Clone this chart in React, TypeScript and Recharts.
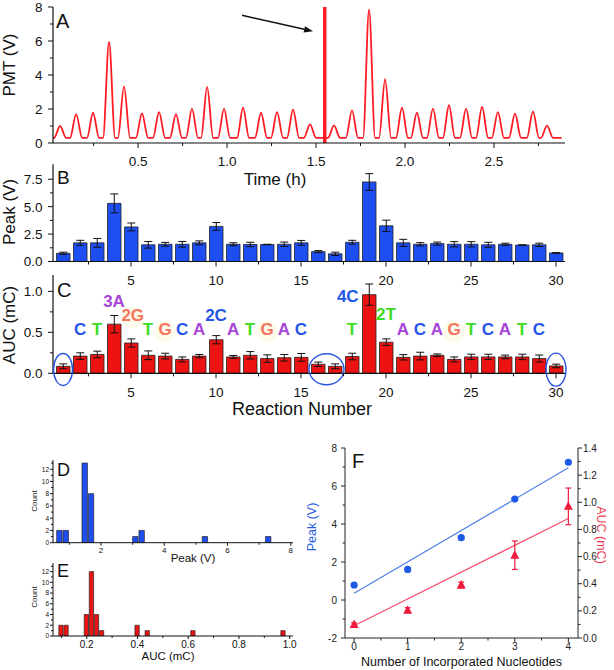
import React from 'react'
import {
  BarChart,
  Bar,
  ComposedChart,
  Line,
  LineChart,
  Scatter,
  XAxis,
  YAxis,
  ErrorBar,
  ReferenceLine,
  ReferenceDot,
  Label,
} from 'recharts'

const FONT = '"Liberation Sans", Arial, Helvetica, sans-serif'
const INK = '#111'
const TRACE_RED = '#ff1c24'
const BAR_RED = '#ee1313'
const BAR_BLUE = '#1d4ef2'

// ---- A: PMT trace, one peak per reaction (apex time in h, height in V)
const peakTimes = [0.062, 0.152, 0.247, 0.337, 0.421, 0.522, 0.618, 0.713, 0.803, 0.888, 0.983, 1.09, 1.191, 1.281, 1.371, 1.466, 1.601, 1.702, 1.798, 1.888, 1.983, 2.067, 2.157, 2.247, 2.343, 2.433, 2.522, 2.618, 2.719, 2.798]
const peakHeights = [1.0, 1.7, 1.78, 5.95, 3.33, 1.74, 1.82, 1.7, 2.02, 3.3, 2.02, 2.08, 1.78, 1.82, 1.97, 1.1, 1.04, 1.92, 7.85, 3.75, 2.08, 1.78, 2.02, 2.22, 2.02, 2.12, 1.82, 1.73, 1.86, 1.02]
const pmtBaseline = 0.3
const peakHalfWidth = 0.034
const traceStart = 0.022
const traceEnd = 2.88
const spikeTime = 1.549
const arrowFrom = [1.084, 7.51]
const arrowTo = [1.483, 6.57]
const timeTicks = [0.25, 0.5, 0.75, 1, 1.25, 1.5, 1.75, 2, 2.25, 2.5, 2.75]
const pmtTicks = [0, 1, 2, 3, 4, 5, 6, 7, 8]

// ---- B / C: per-reaction peak and AUC
const reactions = [1, 2, 3, 4, 5, 6, 7, 8, 9, 10, 11, 12, 13, 14, 15, 16, 17, 18, 19, 20, 21, 22, 23, 24, 25, 26, 27, 28, 29, 30]
const peakV = [0.75, 1.7, 1.7, 5.3, 3.15, 1.52, 1.57, 1.57, 1.7, 3.2, 1.57, 1.55, 1.55, 1.57, 1.7, 0.9, 0.7, 1.75, 7.25, 3.25, 1.7, 1.57, 1.63, 1.57, 1.57, 1.52, 1.57, 1.5, 1.52, 0.78]
const peakErr = [0.1, 0.23, 0.4, 0.86, 0.36, 0.3, 0.17, 0.26, 0.18, 0.35, 0.14, 0.2, 0.02, 0.2, 0.22, 0.09, 0.15, 0.18, 0.76, 0.52, 0.32, 0.15, 0.14, 0.24, 0.24, 0.23, 0.1, 0.02, 0.15, 0.03]
const aucV = [0.085, 0.21, 0.23, 0.6, 0.37, 0.22, 0.21, 0.17, 0.21, 0.41, 0.2, 0.22, 0.18, 0.19, 0.195, 0.11, 0.085, 0.205, 0.96, 0.38, 0.195, 0.21, 0.22, 0.17, 0.2, 0.2, 0.2, 0.2, 0.18, 0.09]
const aucErr = [0.03, 0.04, 0.04, 0.106, 0.05, 0.053, 0.035, 0.03, 0.02, 0.05, 0.018, 0.045, 0.045, 0.04, 0.047, 0.027, 0.03, 0.04, 0.13, 0.04, 0.033, 0.047, 0.016, 0.03, 0.033, 0.033, 0.022, 0.033, 0.043, 0.022]
const reactionTicks = [2.5, 5, 7.5, 10, 12.5, 15, 17.5, 20, 22.5, 25, 27.5, 30]
const peakTicks = [0, 1.25, 2.5, 3.75, 5, 6.25, 7.5]
const aucTicks = [0, 0.25, 0.5, 0.75, 1]

// sequence calls written over panel C
const seqText = ['C', 'T', '3A', '2G', 'T', 'G', 'C', 'A', '2C', 'A', 'T', 'G', 'A', 'C', 'T', '4C', '2T', 'A', 'C', 'A', 'G', 'T', 'C', 'A', 'T', 'C']
const seqX = [2, 3, 4, 5.1, 6, 7, 8, 9, 10, 11, 12, 13, 14, 15, 18, 17.75, 20, 21, 22, 23, 24, 25, 26, 27, 28, 29]
const seqY = [0.54, 0.54, 0.88, 0.71, 0.54, 0.54, 0.54, 0.54, 0.71, 0.54, 0.54, 0.54, 0.54, 0.54, 0.54, 0.945, 0.72, 0.54, 0.54, 0.54, 0.54, 0.54, 0.54, 0.54, 0.54, 0.54]
const circledX = [1, 16.5, 30]
const circledY = [0.047, 0.05, 0.045]

// ---- D / E: histograms
const peakBins = [0.7, 0.9, 1.5, 1.7, 3.1, 3.3, 5.3, 7.3]
const peakCounts = [2, 2, 13, 8, 1, 2, 1, 1]
const aucBins = [0.1, 0.12, 0.2, 0.22, 0.24, 0.26, 0.4, 0.44, 0.62, 0.975]
const aucCounts = [2, 2, 4, 12, 4, 1, 2, 1, 1, 1]
const countTicks = [0, 1, 2, 3, 4, 5, 6, 7, 8, 9, 10, 11, 12, 13]
const histPeakTicks = [1, 2, 3, 4, 5, 6, 7, 8]
const histAucTicks = [0.1, 0.2, 0.3, 0.4, 0.5, 0.6, 0.7, 0.8, 0.9, 1.0]

// ---- F: signal vs number of incorporated nucleotides
const nucleotides = [0, 1, 2, 3, 4]
const fPeak = [0.79, 1.61, 3.28, 5.31, 7.25]
const fAuc = [0.1, 0.205, 0.39, 0.61, 0.97]
const fAucErr = [0.012, 0.018, 0.022, 0.105, 0.135]
const fitX = [0, 4]
const peakFit = [0.35, 6.96]
const aucFit = [0.09, 0.88]
const nucTicks = [0, 0.5, 1, 1.5, 2, 2.5, 3, 3.5, 4]
const fLeftTicks = [-2, -1, 0, 1, 2, 3, 4, 5, 6, 7, 8]
const fRightTicks = [0, 0.1, 0.2, 0.3, 0.4, 0.5, 0.6, 0.7, 0.8, 0.9, 1.0, 1.1, 1.2, 1.3, 1.4]

const baseColors: Record<string, string> = { A: '#a846d8', C: '#2456e8', G: '#f4745e', T: '#3ddc1f' }

const traceData: { t: number; v: number }[] = [{ t: traceStart, v: pmtBaseline }]
peakTimes.forEach((t, i) => {
  traceData.push({ t: t - peakHalfWidth, v: pmtBaseline }, { t, v: peakHeights[i] }, { t: t + peakHalfWidth, v: pmtBaseline })
})
traceData.push({ t: traceEnd, v: pmtBaseline })

const peakRows = reactions.map((n, i) => ({ n, v: peakV[i], e: peakErr[i] }))
const aucRows = reactions.map((n, i) => ({ n, v: aucV[i], e: aucErr[i] }))
const peakHist = peakBins.map((x, i) => ({ x, c: peakCounts[i] }))
const aucHist = aucBins.map((x, i) => ({ x, c: aucCounts[i] }))
const fPeakPts = nucleotides.map((x, i) => ({ x, y: fPeak[i] }))
const fAucPts = nucleotides.map((x, i) => ({ x, y: fAuc[i], e: fAucErr[i] }))
const peakFitLine = fitX.map((x, i) => ({ x, y: peakFit[i] }))
const aucFitLine = fitX.map((x, i) => ({ x, y: aucFit[i] }))

type TickCfg = { side: 'bottom' | 'left' | 'right'; step: number; digits: number; size: number; gap: number; len?: number; minor?: number; color?: string }

// major ticks carry a label, the rest are short minor ticks
function axisTick(c: TickCfg) {
  const len = c.len ?? 5
  const minor = c.minor ?? 3
  const color = c.color ?? INK
  return (p: any) => {
    const v = Number(p.payload.value)
    const isMajor = Math.abs(v / c.step - Math.round(v / c.step)) < 1e-6
    const L = isMajor ? len : minor
    const label = isMajor ? v.toFixed(c.digits) : ''
    if (c.side === 'bottom') {
      return (
        <g>
          <line x1={p.x} y1={p.y} x2={p.x} y2={p.y + L} stroke={color} strokeWidth={1} />
          <text x={p.x} y={p.y + c.gap + c.size * 0.72} textAnchor="middle" fontSize={c.size} fill={color} fontFamily={FONT}>{label}</text>
        </g>
      )
    }
    const d = c.side === 'left' ? -1 : 1
    return (
      <g>
        <line x1={p.x} y1={p.y} x2={p.x + d * L} y2={p.y} stroke={color} strokeWidth={1} />
        <text x={p.x + d * c.gap} y={p.y + c.size * 0.36} textAnchor={d < 0 ? 'end' : 'start'} fontSize={c.size} fill={color} fontFamily={FONT}>{label}</text>
      </g>
    )
  }
}

type TextOpts = { fill?: string; angle?: number; anchor?: 'start' | 'middle' | 'end'; weight?: string }
const textAt = (s: string, x: number, y: number, size: number, o: TextOpts = {}) => () => (
  <text
    x={x}
    y={y}
    fontSize={size}
    fill={o.fill ?? INK}
    fontFamily={FONT}
    fontWeight={o.weight}
    textAnchor={o.anchor ?? 'middle'}
    transform={o.angle ? `rotate(${o.angle} ${x} ${y})` : undefined}
  >
    {s}
  </text>
)

const axisLine = { stroke: INK, strokeWidth: 1.2 }

const arrowShape = (p: any) => {
  const { x1, y1, x2, y2 } = p
  const a = Math.atan2(y2 - y1, x2 - x1)
  const L = 9
  const W = 3.2
  const bx = x2 - L * Math.cos(a)
  const by = y2 - L * Math.sin(a)
  const pts = [
    [x2, y2],
    [bx - W * Math.sin(a), by + W * Math.cos(a)],
    [bx + W * Math.sin(a), by - W * Math.cos(a)],
  ]
  return (
    <g>
      <line x1={x1} y1={y1} x2={bx} y2={by} stroke={INK} strokeWidth={1.6} />
      <polygon points={pts.map((q) => q.join(',')).join(' ')} fill={INK} />
    </g>
  )
}

function PanelA() {
  return (
    <LineChart width={600} height={195} data={traceData} margin={{ top: 7, right: 35, bottom: 0, left: 0 }}>
      <XAxis type="number" dataKey="t" domain={[0.022, 2.899]} allowDataOverflow ticks={timeTicks} interval={0} tickSize={0} tickMargin={0} tickLine={false} height={52} axisLine={axisLine} tick={axisTick({ side: 'bottom', step: 0.5, digits: 1, size: 13.5, gap: 13.5 })}>
        <Label content={textAt('Time (h)', 275, 185, 17)} />
      </XAxis>
      <YAxis type="number" domain={[0, 8]} allowDataOverflow ticks={pmtTicks} interval={0} tickSize={0} tickMargin={0} tickLine={false} width={53} axisLine={axisLine} tick={axisTick({ side: 'left', step: 2, digits: 0, size: 13.5, gap: 10.5 })}>
        <Label content={textAt('PMT (V)', 15, 65, 17, { angle: -90 })} />
        <Label content={textAt('A', 56, 28, 20, { anchor: 'start' })} />
      </YAxis>
      <ReferenceLine x={spikeTime} stroke={TRACE_RED} strokeWidth={3.5} />
      <ReferenceLine segment={[{ x: arrowFrom[0], y: arrowFrom[1] }, { x: arrowTo[0], y: arrowTo[1] }]} shape={arrowShape} />
      <Line type="monotone" dataKey="v" stroke={TRACE_RED} strokeWidth={1.8} dot={false} isAnimationActive={false} />
    </LineChart>
  )
}

function PanelB() {
  return (
    <BarChart width={600} height={150} data={peakRows} margin={{ top: 14.3, right: 35, bottom: 0, left: 0 }}>
      <XAxis type="number" dataKey="n" domain={[0.41, 30.53]} allowDataOverflow ticks={reactionTicks} interval={0} tickSize={0} tickMargin={0} tickLine={false} height={38.5} axisLine={axisLine} tick={axisTick({ side: 'bottom', step: 5, digits: 0, size: 13.5, gap: 13.5 })} />
      <YAxis type="number" domain={[0, 8.86]} allowDataOverflow ticks={peakTicks} interval={0} tickSize={0} tickMargin={0} tickLine={false} width={53} axisLine={axisLine} tick={axisTick({ side: 'left', step: 2.5, digits: 1, size: 13.5, gap: 10.5 })}>
        <Label content={textAt('Peak (V)', 15, 62, 17, { angle: -90 })} />
        <Label content={textAt('B', 57, 34, 19, { anchor: 'start' })} />
      </YAxis>
      <Bar dataKey="v" fill={BAR_BLUE} stroke="#222" strokeWidth={0.8} barSize={13.5} isAnimationActive={false}>
        <ErrorBar dataKey="e" width={4} stroke={INK} strokeWidth={1} direction="y" />
      </Bar>
    </BarChart>
  )
}

function PanelC() {
  const ellipseR = [
    [9.5, 16],
    [17.5, 15.5],
    [10, 16.5],
  ]
  return (
    <BarChart width={600} height={165} data={aucRows} margin={{ top: 15, right: 35, bottom: 0, left: 0 }}>
      <XAxis type="number" dataKey="n" domain={[0.41, 30.53]} allowDataOverflow ticks={reactionTicks} interval={0} tickSize={0} tickMargin={0} tickLine={false} height={51.7} axisLine={axisLine} tick={axisTick({ side: 'bottom', step: 5, digits: 0, size: 13.5, gap: 13.5 })}>
        <Label content={textAt('Reaction Number', 302, 155, 18)} />
      </XAxis>
      <YAxis type="number" domain={[0, 1.2]} allowDataOverflow ticks={aucTicks} interval={0} tickSize={0} tickMargin={0} tickLine={false} width={53} axisLine={axisLine} tick={axisTick({ side: 'left', step: 0.5, digits: 1, size: 13.5, gap: 10.5 })}>
        <Label content={textAt('AUC (mC)', 15, 65, 17, { angle: -90 })} />
        <Label content={textAt('C', 57, 37, 20, { anchor: 'start' })} />
      </YAxis>
      {seqText.map((s, i) =>
        s.endsWith('G') ? (
          <ReferenceDot key={`g${i}`} x={seqX[i]} y={seqY[i] - 0.03} r={11} fill="#fdfbec" stroke="none" ifOverflow="visible" />
        ) : null,
      )}
      <Bar dataKey="v" fill={BAR_RED} stroke="#222" strokeWidth={0.8} barSize={13.5} isAnimationActive={false}>
        <ErrorBar dataKey="e" width={4} stroke={INK} strokeWidth={1} direction="y" />
      </Bar>
      {seqText.map((s, i) => (
        <ReferenceDot
          key={`s${i}`}
          x={seqX[i]}
          y={seqY[i]}
          r={0}
          ifOverflow="visible"
          shape={(p: any) => (
            <text x={p.cx} y={p.cy} dy="0.36em" textAnchor="middle" fontSize={17} fontWeight="bold" fill={baseColors[s.slice(-1)]} fontFamily={FONT}>
              {s}
            </text>
          )}
        />
      ))}
      {circledX.map((x, i) => (
        <ReferenceDot
          key={`e${i}`}
          x={x}
          y={circledY[i]}
          r={0}
          ifOverflow="visible"
          shape={(p: any) => <ellipse cx={p.cx} cy={p.cy} rx={ellipseR[i][0]} ry={ellipseR[i][1]} fill="none" stroke="#2b55e0" strokeWidth={1.4} />}
        />
      ))}
    </BarChart>
  )
}

function PanelD() {
  return (
    <BarChart width={300} height={125} data={peakHist} margin={{ top: 20, right: 7, bottom: 0, left: 0 }}>
      <XAxis type="number" dataKey="x" domain={[0.483, 8.07]} allowDataOverflow ticks={histPeakTicks} interval={0} tickSize={0} tickMargin={0} tickLine={false} height={22.3} axisLine={{ stroke: INK, strokeWidth: 1 }} tick={axisTick({ side: 'bottom', step: 2, digits: 0, size: 8, gap: 4.5, len: 3, minor: 2 })}>
        <Label content={textAt('Peak (V)', 193, 122, 11.5)} />
      </XAxis>
      <YAxis type="number" domain={[0, 13.5]} allowDataOverflow ticks={countTicks} interval={0} tickSize={0} tickMargin={0} tickLine={false} width={53} axisLine={{ stroke: INK, strokeWidth: 1 }} tick={axisTick({ side: 'left', step: 2, digits: 0, size: 6.5, gap: 4, len: 3, minor: 2 })}>
        <Label content={textAt('Count', 36.5, 61, 8, { angle: -90 })} />
        <Label content={textAt('D', 57, 36, 18, { anchor: 'start' })} />
      </YAxis>
      <Bar dataKey="c" fill={BAR_BLUE} stroke="#222" strokeWidth={0.7} barSize={5.4} isAnimationActive={false} />
    </BarChart>
  )
}

function PanelE() {
  return (
    <BarChart width={300} height={120} data={aucHist} margin={{ top: 13, right: 7, bottom: 0, left: 0 }}>
      <XAxis type="number" dataKey="x" domain={[0.067, 1.013]} allowDataOverflow ticks={histAucTicks} interval={0} tickSize={0} tickMargin={0} tickLine={false} height={34} axisLine={{ stroke: INK, strokeWidth: 1 }} tick={axisTick({ side: 'bottom', step: 0.2, digits: 1, size: 10, gap: 4.5, len: 3, minor: 2 })}>
        <Label content={textAt('AUC (mC)', 168, 110, 11.5)} />
      </XAxis>
      <YAxis type="number" domain={[0, 13.6]} allowDataOverflow ticks={countTicks} interval={0} tickSize={0} tickMargin={0} tickLine={false} width={53} axisLine={{ stroke: INK, strokeWidth: 1 }} tick={axisTick({ side: 'left', step: 2, digits: 0, size: 6.5, gap: 4, len: 3, minor: 2 })}>
        <Label content={textAt('Count', 36.5, 47, 8, { angle: -90 })} />
        <Label content={textAt('E', 57, 27, 18, { anchor: 'start' })} />
      </YAxis>
      <Bar dataKey="c" fill={BAR_RED} stroke="#222" strokeWidth={0.7} barSize={4.3} isAnimationActive={false} />
    </BarChart>
  )
}

function PanelF() {
  const fTick = '#222'
  return (
    <ComposedChart width={324} height={240} margin={{ top: 18, right: 0, bottom: 0, left: 0 }}>
      <XAxis type="number" dataKey="x" domain={[-0.17, 4.18]} allowDataOverflow ticks={nucTicks} interval={0} tickSize={0} tickMargin={0} tickLine={false} height={32} axisLine={{ stroke: fTick, strokeWidth: 1 }} tick={axisTick({ side: 'bottom', step: 1, digits: 0, size: 10, gap: 5, len: 4, minor: 2.5, color: fTick })}>
        <Label content={textAt('Number of Incorporated Nucleotides', 171.5, 236, 12.5)} />
      </XAxis>
      <YAxis yAxisId="left" type="number" domain={[-2, 8]} allowDataOverflow ticks={fLeftTicks} interval={0} tickSize={0} tickMargin={0} tickLine={false} width={55} axisLine={{ stroke: fTick, strokeWidth: 1 }} tick={axisTick({ side: 'left', step: 2, digits: 0, size: 10, gap: 8, len: 4, minor: 2.5, color: fTick })}>
        <Label content={textAt('Peak (V)', 26, 97, 12.5, { angle: -90, fill: '#2a5ee6' })} />
        <Label content={textAt('F', 62, 38, 20, { anchor: 'start' })} />
      </YAxis>
      <YAxis yAxisId="right" orientation="right" type="number" domain={[0, 1.4]} allowDataOverflow ticks={fRightTicks} interval={0} tickSize={0} tickMargin={0} tickLine={false} width={36} axisLine={{ stroke: fTick, strokeWidth: 1 }} tick={axisTick({ side: 'right', step: 0.2, digits: 1, size: 10, gap: 5, len: 4, minor: 2.5, color: fTick })}>
        <Label content={textAt('AUC (mC)', 307, 105, 12.5, { angle: 90, fill: '#ee3a4f' })} />
      </YAxis>
      <Line data={peakFitLine} yAxisId="left" dataKey="y" type="linear" stroke="#4d7fe6" strokeWidth={1.2} dot={false} isAnimationActive={false} />
      <Line data={aucFitLine} yAxisId="right" dataKey="y" type="linear" stroke="#f2506a" strokeWidth={1.2} dot={false} isAnimationActive={false} />
      <Scatter
        data={fPeakPts}
        yAxisId="left"
        dataKey="y"
        isAnimationActive={false}
        shape={(p: any) => <circle cx={p.cx} cy={p.cy} r={3.6} fill="#1f5ae6" />}
      />
      <Scatter
        data={fAucPts}
        yAxisId="right"
        dataKey="y"
        isAnimationActive={false}
        shape={(p: any) => <polygon points={`${p.cx},${p.cy - 5} ${p.cx - 4.5},${p.cy + 3.5} ${p.cx + 4.5},${p.cy + 3.5}`} fill="#ee1b3d" />}
      >
        <ErrorBar dataKey="e" width={3} stroke="#ee1b3d" strokeWidth={1.2} direction="y" />
      </Scatter>
    </ComposedChart>
  )
}

export default function App() {
  return (
    <div style={{ position: 'absolute', left: 0, top: 0, width: 614, height: 670, background: '#fff', fontFamily: FONT, overflow: 'hidden' }}>
      <div style={{ position: 'absolute', left: 0, top: 0 }}>
        <PanelA />
      </div>
      <div style={{ position: 'absolute', left: 0, top: 150 }}>
        <PanelB />
      </div>
      <div style={{ position: 'absolute', left: 0, top: 260 }}>
        <PanelC />
      </div>
      <div style={{ position: 'absolute', left: 0, top: 440 }}>
        <PanelD />
      </div>
      <div style={{ position: 'absolute', left: 0, top: 550 }}>
        <PanelE />
      </div>
      <div style={{ position: 'absolute', left: 290, top: 430 }}>
        <PanelF />
      </div>
    </div>
  )
}
